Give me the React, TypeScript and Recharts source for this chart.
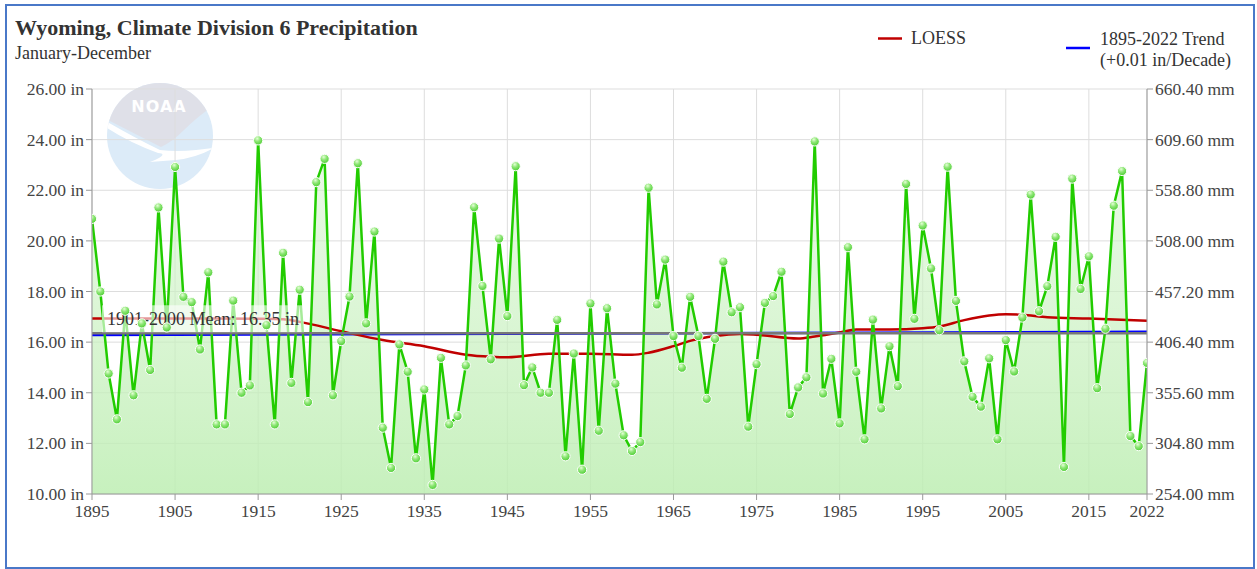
import React from 'react';
import { ComposedChart, Area, Line, XAxis, YAxis, CartesianGrid, ReferenceLine } from 'recharts';

const START_YEAR = 1895;

const PRECIP_IN = [
  20.87, 18.0, 14.76, 12.95, 17.24, 13.9, 16.74, 14.9, 21.32, 16.58,
  22.92, 17.79, 17.58, 15.71, 18.76, 12.75, 12.75, 17.64, 14.0, 14.29,
  23.97, 16.67, 12.75, 19.53, 14.39, 18.07, 13.63, 22.32, 23.24, 13.9,
  16.04, 17.8, 23.07, 16.74, 20.37, 12.62, 11.03, 15.91, 14.83, 11.41,
  14.13, 10.36, 15.38, 12.75, 13.08, 15.08, 21.33, 18.22, 15.32, 20.09,
  17.03, 22.95, 14.3, 15.0, 14.0, 14.0, 16.88, 11.49, 15.55, 10.96,
  17.53, 12.5, 17.34, 14.36, 12.32, 11.7, 12.05, 22.1, 17.49, 19.26,
  16.24, 14.99, 17.79, 16.24, 13.76, 16.13, 19.18, 17.18, 17.38, 12.66,
  15.13, 17.55, 17.82, 18.78, 13.16, 14.21, 14.61, 23.93, 13.97, 15.34,
  12.79, 19.75, 14.83, 12.16, 16.89, 13.38, 15.84, 14.26, 22.25, 16.92,
  20.61, 18.91, 16.47, 22.93, 17.63, 15.24, 13.84, 13.45, 15.36, 12.16,
  16.08, 14.84, 16.97, 21.83, 17.22, 18.21, 20.16, 11.07, 22.46, 18.1,
  19.39, 14.18, 16.53, 21.39, 22.76, 12.29, 11.89, 15.18,
];

const LOESS_YEARS = [
  1895, 1900, 1905, 1910, 1915, 1918, 1920, 1925, 1930, 1935, 1940, 1943, 1945,
  1950, 1955, 1960, 1962, 1965, 1967, 1970, 1973, 1975, 1980, 1982, 1985, 1987,
  1991, 1995, 1997, 2000, 2003, 2005, 2007, 2010, 2015, 2022,
];
const LOESS_IN = [
  16.93, 16.93, 16.93, 16.93, 16.92, 16.9, 16.8, 16.43, 16.08, 15.84, 15.5, 15.42, 15.4,
  15.54, 15.54, 15.5, 15.58, 15.84, 16.05, 16.24, 16.32, 16.29, 16.14, 16.22, 16.38, 16.5,
  16.5, 16.55, 16.62, 16.87, 17.05, 17.1, 17.08, 16.98, 16.93, 16.84,
];

const TREND_YEARS = [1895, 2022];
const TREND_IN = [16.28, 16.41];

const MEAN_IN = 16.35;
const MEAN_LABEL = '1901-2000 Mean: 16.35 in';

const X_TICKS = [1895, 1905, 1915, 1925, 1935, 1945, 1955, 1965, 1975, 1985, 1995, 2005, 2015, 2022];
const Y_TICKS_IN = [10, 12, 14, 16, 18, 20, 22, 24, 26];
const MM_PER_IN = 25.4;

const TITLE = 'Wyoming, Climate Division 6 Precipitation';
const SUBTITLE = 'January-December';
const LEGEND_LOESS = 'LOESS';
const LEGEND_TREND_1 = '1895-2022 Trend';
const LEGEND_TREND_2 = '(+0.01 in/Decade)';

const data = PRECIP_IN.map((v, i) => ({ year: START_YEAR + i, precip: v }));
const mmData = PRECIP_IN.map((v, i) => ({ year: START_YEAR + i, mm: v * MM_PER_IN }));
const loessData = LOESS_YEARS.map((y, i) => ({ year: y, loess: LOESS_IN[i] }));
const trendData = TREND_YEARS.map((y, i) => ({ year: y, trend: TREND_IN[i] }));
const Y_TICKS_MM = Y_TICKS_IN.map((v) => Math.round(v * MM_PER_IN * 100) / 100);

const FONT = 'Liberation Serif';
const TICK_COLOR = '#444';

const XTick = (props: any) => {
  const { x, y, payload } = props;
  return (
    <text x={x} y={y + 15} textAnchor="middle" fontFamily={FONT} fontSize={17.5} fill={TICK_COLOR}>
      {payload.value}
    </text>
  );
};

const LeftTick = (props: any) => {
  const { x, y, payload } = props;
  return (
    <text x={x} y={y + 6} textAnchor="end" fontFamily={FONT} fontSize={17.5} fill={TICK_COLOR}>
      {`${Number(payload.value).toFixed(2)} in`}
    </text>
  );
};

const RightTick = (props: any) => {
  const { x, y, payload } = props;
  return (
    <text x={x} y={y + 6} textAnchor="start" fontFamily={FONT} fontSize={17.5} fill={TICK_COLOR}>
      {`${Number(payload.value).toFixed(2)} mm`}
    </text>
  );
};

const GreenDot = (props: any) => {
  const { cx, cy, index } = props;
  if (cx == null || cy == null) return <g key={index} />;
  return (
    <circle key={index} cx={cx} cy={cy} r={4.6} fill="url(#dotGrad)" stroke="#ffffff" strokeWidth={1} />
  );
};

const MeanLabel = (props: any) => {
  const vb = props.viewBox || {};
  const x = vb.x ?? 0;
  const y = vb.y ?? 0;
  return (
    <g>
      <rect x={x + 10} y={y - 28} width={202} height={27} fill="#ffffff" fillOpacity={0.6} />
      <text x={x + 15} y={y - 8} fontFamily={FONT} fontSize={18} fill="#333">
        {MEAN_LABEL}
      </text>
    </g>
  );
};

const NoaaLogo = () => (
  <svg width={1257} height={569} style={{ position: 'absolute', left: 0, top: 0 }}>
    <defs>
      <clipPath id="logoClip">
        <circle cx={160} cy={136} r={53} />
      </clipPath>
    </defs>
    <g opacity={0.85}>
      <circle cx={160} cy={136} r={53} fill="#d6e8f7" />
      <g clipPath="url(#logoClip)">
        <path d="M100,80 L222,80 L222,100 Q200,114 184,130 Q172,142 161,147 Q135,134 100,116 Z" fill="#dadbe5" />
        <path d="M104,120 Q135,138 160,150 Q176,152 196,150 L214,148 Q196,158 176,160 L150,162 Q170,154 158,153 Q128,142 104,126 Z" fill="#ffffff" />
      </g>
      <text x={159} y={112} textAnchor="middle" fontFamily="DejaVu Sans" fontWeight="bold" fontSize={16} fill="#ffffff" letterSpacing={1}>
        NOAA
      </text>
    </g>
  </svg>
);

const Header = () => (
  <svg width={1257} height={569} style={{ position: 'absolute', left: 0, top: 0, pointerEvents: 'none' }}>
    <text x={15} y={35} fontFamily={FONT} fontWeight="bold" fontSize={22} fill="#333">{TITLE}</text>
    <text x={15} y={59} fontFamily={FONT} fontSize={18} fill="#333">{SUBTITLE}</text>
    <line x1={878} y1={38.5} x2={902} y2={38.5} stroke="#c00000" strokeWidth={2.5} />
    <text x={911} y={44} fontFamily={FONT} fontSize={18} fill="#333">{LEGEND_LOESS}</text>
    <line x1={1066} y1={48} x2={1090} y2={48} stroke="#0000ff" strokeWidth={2.5} />
    <text x={1100} y={45} fontFamily={FONT} fontSize={18} fill="#333">{LEGEND_TREND_1}</text>
    <text x={1100} y={66} fontFamily={FONT} fontSize={18} fill="#333">{LEGEND_TREND_2}</text>
  </svg>
);

export default function App() {
  return (
    <div style={{ position: 'absolute', left: 0, top: 0, width: 1257, height: 569, background: '#ffffff', overflow: 'hidden' }}>
      <NoaaLogo />
      <div style={{ position: 'absolute', left: 0, top: 0 }}>
        <ComposedChart width={1257} height={569} margin={{ top: 89, right: 30, bottom: 45, left: 12 }} data={data}>
          <defs>
            <linearGradient id="areaGrad" x1="0" y1="0" x2="0" y2="1">
              <stop offset="0%" stopColor="#d6f4cf" stopOpacity={0.5} />
              <stop offset="100%" stopColor="#bdeeb2" stopOpacity={0.85} />
            </linearGradient>
            <radialGradient id="dotGrad" cx="40%" cy="30%" r="70%">
              <stop offset="0%" stopColor="#e4ffd6" />
              <stop offset="45%" stopColor="#8ee676" />
              <stop offset="100%" stopColor="#4fcf35" />
            </radialGradient>
          </defs>
          <CartesianGrid yAxisId="left" stroke="#dddddd" strokeWidth={1} />
          <XAxis
            dataKey="year"
            type="number"
            domain={[1895, 2022]}
            ticks={X_TICKS}
            interval={0}
            allowDataOverflow
            tick={<XTick />}
            stroke="#999"
            tickLine={{ stroke: '#999' }}
            height={30}
          />
          <YAxis
            yAxisId="left"
            domain={[10, 26]}
            ticks={Y_TICKS_IN}
            interval={0}
            allowDataOverflow
            tick={<LeftTick />}
            stroke="#999"
            tickLine={{ stroke: '#999' }}
            width={80}
          />
          <YAxis
            yAxisId="right"
            orientation="right"
            domain={[254, 660.4]}
            ticks={Y_TICKS_MM}
            interval={0}
            allowDataOverflow
            tick={<RightTick />}
            stroke="#999"
            tickLine={{ stroke: '#999' }}
            width={80}
          />
          <Line yAxisId="right" data={mmData} dataKey="mm" stroke="none" dot={false} activeDot={false} isAnimationActive={false} />
          <Area
            yAxisId="left"
            dataKey="precip"
            type="linear"
            stroke="none"
            fill="url(#areaGrad)"
            fillOpacity={1}
            baseValue={10}
            dot={false}
            activeDot={false}
            isAnimationActive={false}
          />
          <Line
            yAxisId="left"
            data={trendData}
            dataKey="trend"
            type="linear"
            stroke="#0000ff"
            strokeWidth={2.5}
            dot={false}
            activeDot={false}
            isAnimationActive={false}
          />
          <Line
            yAxisId="left"
            data={loessData}
            dataKey="loess"
            type="monotone"
            stroke="#c00000"
            strokeWidth={2.5}
            dot={false}
            activeDot={false}
            isAnimationActive={false}
          />
          <Line
            yAxisId="left"
            dataKey="precip"
            type="linear"
            stroke="#22cc00"
            strokeWidth={2.5}
            dot={<GreenDot />}
            activeDot={false}
            isAnimationActive={false}
          />
          <ReferenceLine yAxisId="left" y={MEAN_IN} stroke="#777777" strokeWidth={2.5} label={<MeanLabel />} />
        </ComposedChart>
      </div>
      <Header />
      <div
        style={{
          position: 'absolute',
          left: 5,
          top: 4,
          width: 1246,
          height: 561,
          border: '2px solid #4a78c8',
          pointerEvents: 'none',
        }}
      />
    </div>
  );
}
